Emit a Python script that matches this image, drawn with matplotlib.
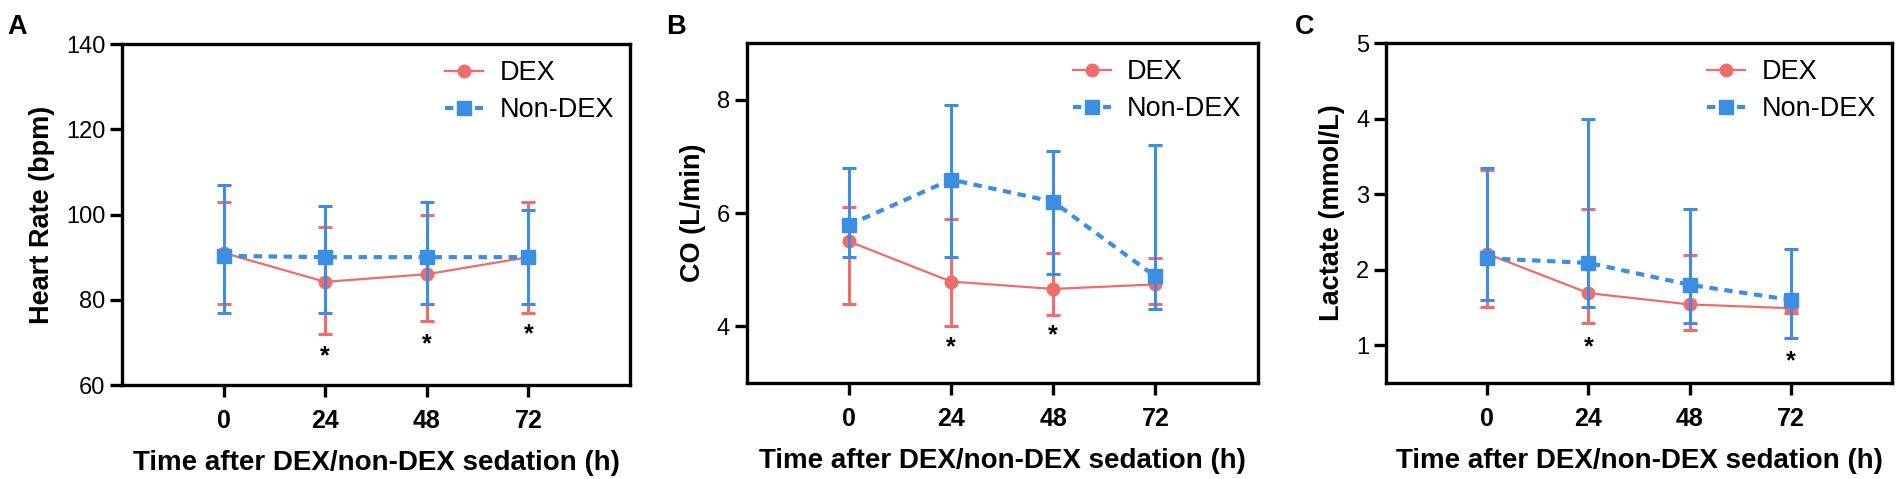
import matplotlib
matplotlib.use("Agg")
import matplotlib.pyplot as plt
from matplotlib.lines import Line2D

plt.rcParams["font.family"] = ["Liberation Sans", "DejaVu Sans"]

times = [0, 24, 48, 72]
xticks = [0, 24, 48, 72]

# panel A: heart rate (bpm)
hr_dex = [91, 84.2, 86, 90]
hr_dex_lo = [79, 72, 75, 77]
hr_dex_hi = [103, 97, 100, 103]
hr_non = [90.3, 90, 90, 90]
hr_non_lo = [77, 77, 79, 79]
hr_non_hi = [107, 102, 103, 101]
hr_star_x = [24, 48, 72]
hr_star_y = [68.3, 71.2, 73.5]

# panel B: cardiac output (L/min)
co_dex = [5.5, 4.79, 4.66, 4.74]
co_dex_lo = [4.4, 4.0, 4.2, 4.4]
co_dex_hi = [6.1, 5.9, 5.3, 5.2]
co_non = [5.79, 6.59, 6.2, 4.88]
co_non_lo = [5.22, 5.22, 4.93, 4.3]
co_non_hi = [6.8, 7.9, 7.1, 7.2]
co_star_x = [24, 48]
co_star_y = [3.75, 3.96]

# panel C: lactate (mmol/L)
lac_dex = [2.21, 1.69, 1.54, 1.49]
lac_dex_lo = [1.5, 1.3, 1.2, 1.42]
lac_dex_hi = [3.32, 2.8, 2.2, 1.56]
lac_non = [2.15, 2.09, 1.8, 1.6]
lac_non_lo = [1.6, 1.5, 1.3, 1.09]
lac_non_hi = [3.34, 4.0, 2.8, 2.28]
lac_star_x = [24, 72]
lac_star_y = [1.06, 0.88]

RED = "#f06b6b"
BLUE = "#3b8ee4"
DASH = (0, (2, 1.6))

fig = plt.figure(figsize=(19.04, 4.79), dpi=100)

panels = [
    dict(rect=[0.0641, 0.1962, 0.2668, 0.7119], letter="A", lx=0.004,
         dex=(hr_dex, hr_dex_lo, hr_dex_hi), non=(hr_non, hr_non_lo, hr_non_hi),
         stars=(hr_star_x, hr_star_y), ylim=(60, 140), yticks=[60, 80, 100, 120, 140],
         ylabel="Heart Rate (bpm)"),
    dict(rect=[0.3921, 0.2004, 0.2684, 0.7098], letter="B", lx=0.350,
         dex=(co_dex, co_dex_lo, co_dex_hi), non=(co_non, co_non_lo, co_non_hi),
         stars=(co_star_x, co_star_y), ylim=(3, 9), yticks=[4, 6, 8],
         ylabel="CO (L/min)"),
    dict(rect=[0.7279, 0.2004, 0.2658, 0.7098], letter="C", lx=0.680,
         dex=(lac_dex, lac_dex_lo, lac_dex_hi), non=(lac_non, lac_non_lo, lac_non_hi),
         stars=(lac_star_x, lac_star_y), ylim=(0.5, 5), yticks=[1, 2, 3, 4, 5],
         ylabel="Lactate (mmol/L)"),
]

handles = [
    Line2D([], [], color=RED, lw=1.6, marker="o", ms=9),
    Line2D([], [], color=BLUE, lw=3, ls=DASH, marker="s", ms=10),
]

for p in panels:
    ax = fig.add_axes(p["rect"])
    m, lo, hi = p["dex"]
    yerr = [[a - b for a, b in zip(m, lo)], [b - a for a, b in zip(m, hi)]]
    ax.errorbar(times, m, yerr=yerr, color=RED, lw=1.6, marker="o", ms=9,
                elinewidth=2.2, capsize=5, capthick=2.2, zorder=3)
    m, lo, hi = p["non"]
    yerr = [[a - b for a, b in zip(m, lo)], [b - a for a, b in zip(m, hi)]]
    ax.errorbar(times, m, yerr=yerr, color=BLUE, lw=3, ls=DASH, marker="s", ms=10,
                elinewidth=2.2, capsize=5, capthick=2.2, zorder=4)
    sx, sy = p["stars"]
    for x, y in zip(sx, sy):
        # asterisk glyph sits high in the line, so shift the baseline down
        ax.annotate("*", (x, y), xytext=(0, -10), textcoords="offset points",
                    ha="center", va="baseline", fontsize=18, fontweight="bold", color="black")

    ax.set_xlim(-24, 96)
    ax.set_ylim(*p["ylim"])
    ax.set_xticks(xticks)
    ax.set_yticks(p["yticks"])
    ax.tick_params(axis="both", direction="out", length=8.5, width=2.4)
    ax.tick_params(axis="y", labelsize=17)
    ax.tick_params(axis="x", labelsize=18, pad=9)
    for lbl in ax.get_xticklabels():
        lbl.set_fontweight("bold")
    for s in ax.spines.values():
        s.set_linewidth(2.4)
    ax.set_xlabel("Time after DEX/non-DEX sedation (h)", fontsize=20, fontweight="bold", labelpad=12)
    ax.set_ylabel(p["ylabel"], fontsize=19.5, fontweight="bold", labelpad=8)
    ax.legend(handles, ["DEX", "Non-DEX"], loc="upper right", frameon=False, fontsize=19.5,
              handlelength=1.4, handletextpad=0.6, borderaxespad=0.2, labelspacing=0.4)
    fig.text(p["lx"], 0.944, p["letter"], fontsize=19.5, fontweight="bold", va="center")

fig.savefig("out.png", dpi=100)
